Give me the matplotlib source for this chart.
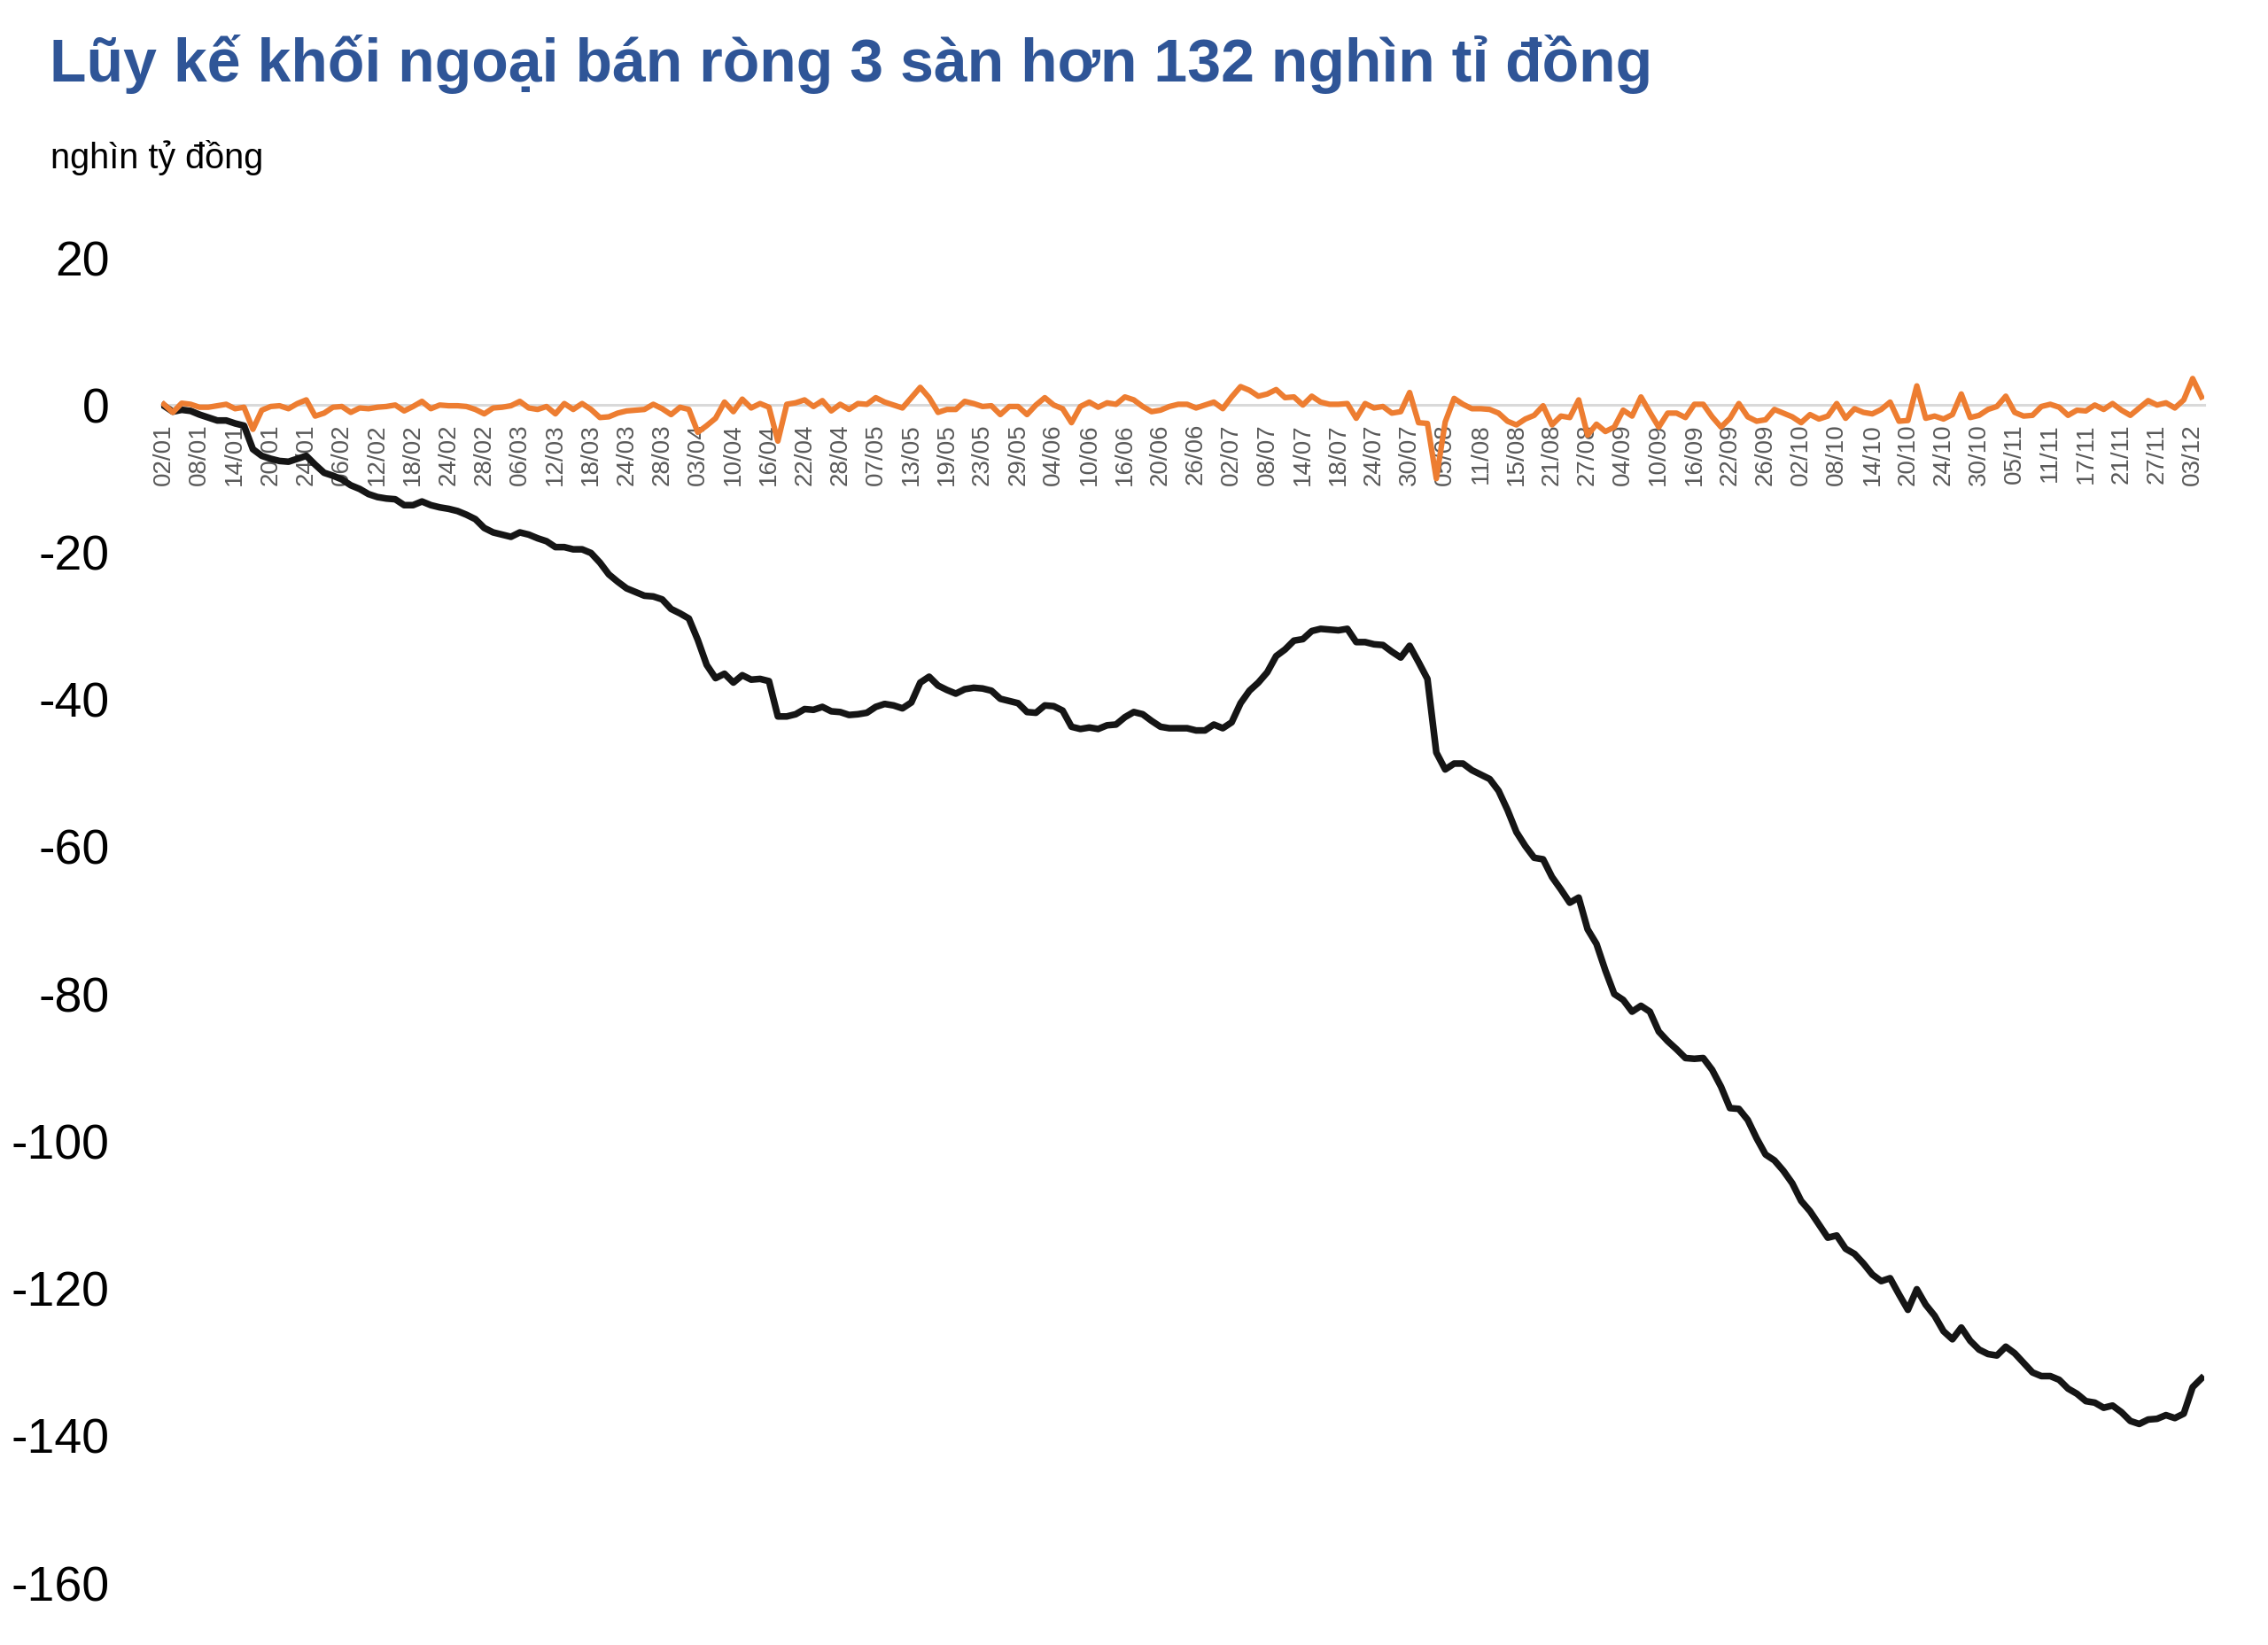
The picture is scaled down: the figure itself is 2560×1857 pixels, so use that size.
import matplotlib
matplotlib.use("Agg")
import matplotlib.pyplot as plt

plt.rcParams['font.family'] = ['Liberation Sans', 'DejaVu Sans']
plt.rcParams['axes.unicode_minus'] = False

title = "Lũy kế khối ngoại bán ròng 3 sàn hơn 132 nghìn tỉ đồng"
unit_label = "nghìn tỷ đồng"

tick_labels = [
    "02/01", "08/01", "14/01", "20/01", "24/01", "06/02", "12/02", "18/02", "24/02", "28/02",
    "06/03", "12/03", "18/03", "24/03", "28/03", "03/04", "10/04", "16/04", "22/04", "28/04",
    "07/05", "13/05", "19/05", "23/05", "29/05", "04/06", "10/06", "16/06", "20/06", "26/06",
    "02/07", "08/07", "14/07", "18/07", "24/07", "30/07", "05/08", "11/08", "15/08", "21/08",
    "27/08", "04/09", "10/09", "16/09", "22/09", "26/09", "02/10", "08/10", "14/10", "20/10",
    "24/10", "30/10", "05/11", "11/11", "17/11", "21/11", "27/11", "03/12",
]

# daily net value (orange), one value per trading day
daily_net = [
    0.1, -1.0, 0.25, 0.1, -0.3, -0.3, -0.1, 0.1, -0.5, -0.3,
    -3.3, -0.7, -0.2, -0.1, -0.5, 0.2, 0.7, -1.5, -1.1, -0.3,
    -0.2, -1.0, -0.4, -0.5, -0.3, -0.2, 0.0, -0.8, -0.2, 0.5,
    -0.5, 0.0, -0.1, -0.1, -0.2, -0.6, -1.2, -0.4, -0.3, -0.1,
    0.5, -0.4, -0.6, -0.2, -1.2, 0.2, -0.6, 0.2, -0.6, -1.7,
    -1.6, -1.1, -0.8, -0.7, -0.6, 0.1, -0.5, -1.3, -0.3, -0.6,
    -3.7, -2.8, -1.8, 0.4, -0.9, 0.8, -0.4, 0.2, -0.3, -4.9,
    0.1, 0.3, 0.7, -0.2, 0.6, -0.8, 0.1, -0.6, 0.2, 0.1,
    1.0, 0.4, 0.0, -0.4, 1.0, 2.4, 1.0, -1.0, -0.6, -0.6,
    0.5, 0.2, -0.2, -0.1, -1.3, -0.2, -0.2, -1.3, 0.0, 1.0,
    0.0, -0.5, -2.4, -0.2, 0.4, -0.3, 0.3, 0.1, 1.1, 0.7,
    -0.2, -0.9, -0.7, -0.2, 0.1, 0.1, -0.4, 0.0, 0.4, -0.5,
    1.1, 2.5, 2.0, 1.2, 1.5, 2.1, 1.0, 1.1, 0.0, 1.2,
    0.4, 0.1, 0.1, 0.2, -1.8, 0.2, -0.4, -0.2, -1.1, -0.9,
    1.7, -2.4, -2.5, -10.0, -2.3, 0.9, 0.1, -0.5, -0.5, -0.6,
    -1.1, -2.2, -2.7, -1.9, -1.4, -0.1, -2.7, -1.5, -1.7, 0.7,
    -4.1, -2.6, -3.6, -3.0, -0.7, -1.5, 1.1, -1.0, -3.0, -1.1,
    -1.1, -1.7, 0.1, 0.1, -1.6, -3.0, -1.8, 0.2, -1.6, -2.2,
    -2.0, -0.6, -1.1, -1.6, -2.4, -1.3, -1.9, -1.5, 0.2, -1.8,
    -0.5, -1.0, -1.2, -0.6, 0.4, -2.2, -2.1, 2.6, -1.8, -1.5,
    -1.9, -1.3, 1.5, -1.7, -1.4, -0.6, -0.2, 1.2, -1.0, -1.5,
    -1.4, -0.2, 0.1, -0.3, -1.4, -0.7, -0.8, 0.0, -0.6, 0.2,
    -0.7, -1.4, -0.4, 0.6, 0.0, 0.3, -0.4, 0.7, 3.6, 1.1,
]

# cumulative net value (black)
cumulative = [
    -0.1, -0.9, -0.65, -0.8, -1.3, -1.7, -2.1, -2.1, -2.5, -2.8,
    -6.0, -6.9, -7.3, -7.6, -7.7, -7.3, -6.9, -8.1, -9.2, -9.6,
    -10.1, -10.9, -11.4, -12.1, -12.5, -12.7, -12.8, -13.6, -13.6, -13.1,
    -13.6, -13.9, -14.1, -14.4, -14.9, -15.5, -16.7, -17.3, -17.6, -17.9,
    -17.3, -17.6, -18.1, -18.5, -19.3, -19.3, -19.6, -19.6, -20.1, -21.4,
    -23.0, -24.0, -24.9, -25.4, -25.9, -26.0, -26.4, -27.7, -28.3, -29.0,
    -31.9, -35.3, -37.1, -36.5, -37.7, -36.7, -37.3, -37.2, -37.5, -42.3,
    -42.3, -42.0, -41.3, -41.4, -41.0, -41.6, -41.7, -42.1, -42.0, -41.8,
    -41.0, -40.6, -40.8, -41.2, -40.4, -37.7, -36.9, -38.1, -38.7, -39.2,
    -38.6, -38.4, -38.5, -38.8, -39.9, -40.2, -40.5, -41.7, -41.8, -40.8,
    -40.9, -41.5, -43.7, -44.0, -43.8, -44.0, -43.5, -43.4, -42.4, -41.7,
    -42.0, -42.9, -43.7, -43.9, -43.9, -43.9, -44.2, -44.2, -43.4, -43.9,
    -43.1, -40.5, -38.8, -37.7, -36.3, -34.1, -33.2, -32.0, -31.8, -30.7,
    -30.4, -30.5, -30.6, -30.4, -32.2, -32.2, -32.5, -32.6, -33.5, -34.3,
    -32.7, -34.9, -37.2, -47.2, -49.5, -48.7, -48.7, -49.6, -50.2, -50.8,
    -52.4, -55.0, -58.0, -59.9, -61.5, -61.7, -64.1, -65.8, -67.6, -66.9,
    -71.2, -73.2, -76.8, -80.0, -80.8, -82.4, -81.6, -82.4, -85.1, -86.4,
    -87.5, -88.7, -88.8, -88.7, -90.3, -92.6, -95.5, -95.6, -97.1, -99.6,
    -101.8, -102.6, -104.0, -105.7, -108.1, -109.5, -111.3, -113.1, -112.8, -114.6,
    -115.3, -116.6, -118.1, -119.0, -118.6, -120.8, -122.9, -120.1, -122.2, -123.7,
    -125.8, -126.9, -125.3, -127.1, -128.3, -128.9, -129.1, -127.9, -128.8, -130.1,
    -131.4, -131.9, -131.9, -132.4, -133.6, -134.3, -135.3, -135.5, -136.2, -135.9,
    -136.8, -138.0, -138.4, -137.8, -137.7, -137.2, -137.6, -137.0, -133.4, -132.2,
]

y_ticks = [20, 0, -20, -40, -60, -80, -100, -120, -140, -160]

W, H = 2560, 1857
fig = plt.figure(figsize=(W / 100, H / 100), dpi=100)
ax = fig.add_axes([182 / W, 1 - 1787 / H, (2488 - 182) / W, (1787 - 291) / H])

x = list(range(len(daily_net)))
ax.plot(x, cumulative, color='#151515', lw=5.4, zorder=3, solid_joinstyle='round')
ax.plot(x, daily_net, color='#ed7d31', lw=4.5, zorder=4, solid_joinstyle='round')

ax.set_xlim(-0.3, len(daily_net) - 1 + 0.3)
ax.set_ylim(-160, 20)

for s in ['top', 'right', 'left']:
    ax.spines[s].set_visible(False)
ax.spines['bottom'].set_position(('data', 0))
ax.spines['bottom'].set_color('#d9d9d9')
ax.spines['bottom'].set_linewidth(2.2)
ax.spines['bottom'].set_zorder(1)

ax.set_xticks(list(range(0, len(daily_net), 4))[:len(tick_labels)])
ax.set_xticklabels(tick_labels, rotation=90, fontsize=20, color='#595959')
ax.tick_params(axis='x', length=0, pad=15)

ax.set_yticks(y_ticks)
ax.set_yticklabels([str(v) for v in y_ticks], fontsize=40, color='black')
ax.tick_params(axis='y', length=0, pad=42)

fig.text(56 / W, 1 - 92 / H, title, fontsize=49, fontweight='bold',
         color='#2f5597', va='baseline', ha='left')
fig.text(57 / W, 1 - 190 / H, unit_label, fontsize=28.5, color='black',
         va='baseline', ha='left')

fig.savefig('out.png', dpi=100)
